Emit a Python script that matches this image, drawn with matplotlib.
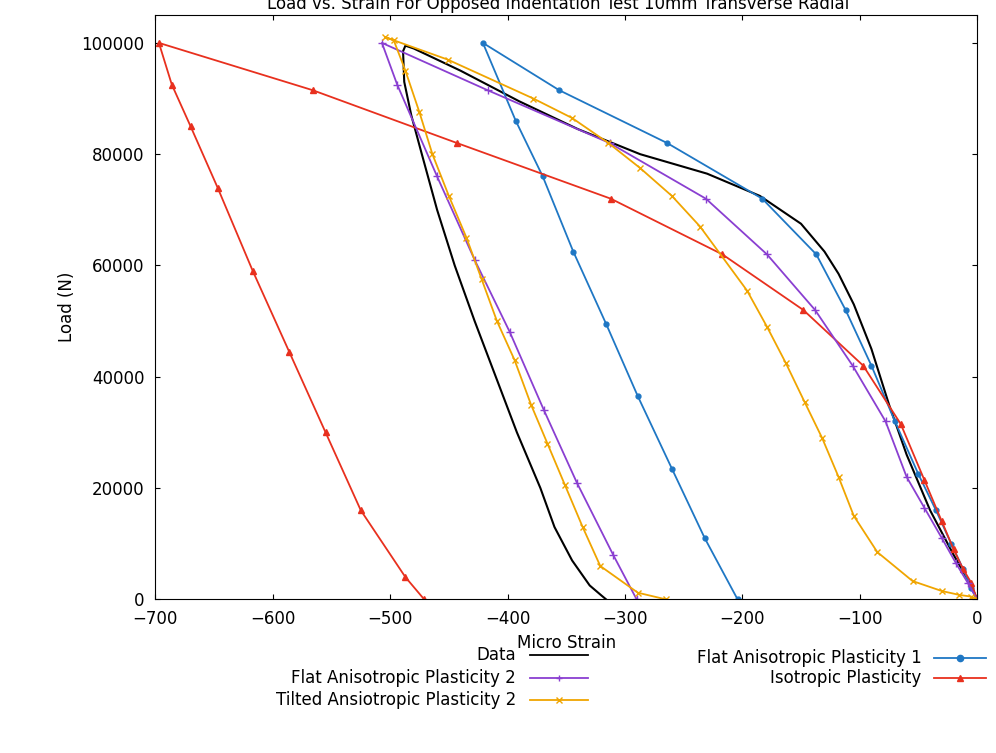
import matplotlib
matplotlib.use("Agg")
import matplotlib.pyplot as plt
from matplotlib.lines import Line2D

data_x = [0,-5,-20,-40,-60,-75,-90,-105,-118,-130,-150,-185,-230,-287,-340,-390,-440,-480,-487,-489,-488,-482,-473,-460,-445,-428,-410,-392,-372,-360,-345,-330,-320,-316]
data_y = [0,2500,8000,16000,26000,35000,45000,53000,58500,62500,67500,72500,76500,80000,84500,89500,95000,99000,99500,98500,93000,87000,80000,70000,60000,50000,40000,30000,20000,13000,7000,2500,700,0]

f1_x = [0,-5,-12,-22,-35,-50,-70,-90,-112,-137,-183,-264,-356,-421,-393,-370,-344,-316,-289,-260,-232,-204]
f1_y = [0,2000,5500,10000,16000,22500,32000,42000,52000,62000,72000,82000,91500,100000,86000,76000,62500,49500,36500,23500,11000,0]

iso_x = [0,-5,-12,-20,-30,-45,-65,-97,-148,-217,-312,-443,-566,-697,-686,-670,-647,-617,-586,-555,-525,-487,-471]
iso_y = [0,3000,5500,9000,14000,21500,31500,42000,52000,62000,72000,82000,91500,100000,92500,85000,74000,59000,44500,30000,16000,4000,0]

f2_x = [0,-8,-18,-30,-45,-60,-78,-106,-138,-179,-231,-313,-417,-507,-494,-460,-428,-398,-369,-341,-310,-290]
f2_y = [0,3000,6500,11000,16500,22000,32000,42000,52000,62000,72000,82000,91500,100000,92500,76000,61000,48000,34000,21000,8000,0]

t2_x = [0,-5,-15,-30,-55,-85,-105,-118,-132,-147,-163,-179,-196,-236,-260,-287,-314,-345,-378,-451,-504,-497,-487,-475,-464,-450,-435,-422,-409,-394,-380,-366,-351,-336,-321,-289,-265]
t2_y = [0,500,800,1500,3300,8500,15000,22000,29000,35500,42500,49000,55500,67000,72500,77500,82000,86500,90000,97000,101000,100500,95000,87500,80000,72500,65000,57500,50000,43000,35000,28000,20500,13000,6000,1200,0]

fig = plt.figure(figsize=(9.96,7.53), dpi=100)
ax = fig.add_axes([0.156, 0.204, 0.825, 0.776])
ax.plot(data_x, data_y, color='black', lw=1.5)
ax.plot(f1_x, f1_y, color='#1f77c4', lw=1.3, marker='o', ms=3.5)
ax.plot(iso_x, iso_y, color='#e8301e', lw=1.3, marker='^', ms=4.5)
ax.plot(f2_x, f2_y, color='#8a3fd1', lw=1.3, marker='+', ms=6)
ax.plot(t2_x, t2_y, color='#f0a500', lw=1.3, marker='x', ms=5)
ax.set_xlim(-700, 0)
ax.set_ylim(0, 105000)
ax.set_xticks(range(-700, 1, 100))
ax.set_yticks(range(0, 100001, 20000))
ax.tick_params(direction='in', labelsize=12, top=True, right=True)
ax.tick_params(axis='x', pad=8)
ax.tick_params(axis='y', pad=8)
ax.set_xlabel('Micro Strain', fontsize=12)
ax.set_ylabel('Load (N)', fontsize=12)
fig.text(0.56, 0.995, 'Load vs. Strain For Opposed Indentation Test 10mm Transverse Radial',
         ha='center', va='center', fontsize=12)

entries = [("Data", 'black', None, 0.518, 0.130, 0.532, 0.59),
           ("Flat Anisotropic Plasticity 2", '#8a3fd1', '+', 0.518, 0.100, 0.532, 0.59),
           ("Tilted Ansiotropic Plasticity 2", '#f0a500', 'x', 0.518, 0.070, 0.532, 0.59),
           ("Flat Anisotropic Plasticity 1", '#1f77c4', 'o', 0.925, 0.126, 0.938, 0.99),
           ("Isotropic Plasticity", '#e8301e', '^', 0.925, 0.100, 0.938, 0.99)]
for lab, c, m, tx, ty, l0, l1 in entries:
    fig.text(tx, ty, lab, ha='right', va='center', fontsize=12)
    fig.add_artist(Line2D([l0, l1], [ty, ty], color=c, lw=1.3, transform=fig.transFigure))
    if m:
        fig.add_artist(Line2D([(l0+l1)/2], [ty], color=c, marker=m, ms=4.5, transform=fig.transFigure))
fig.savefig('out.png', dpi=100)
